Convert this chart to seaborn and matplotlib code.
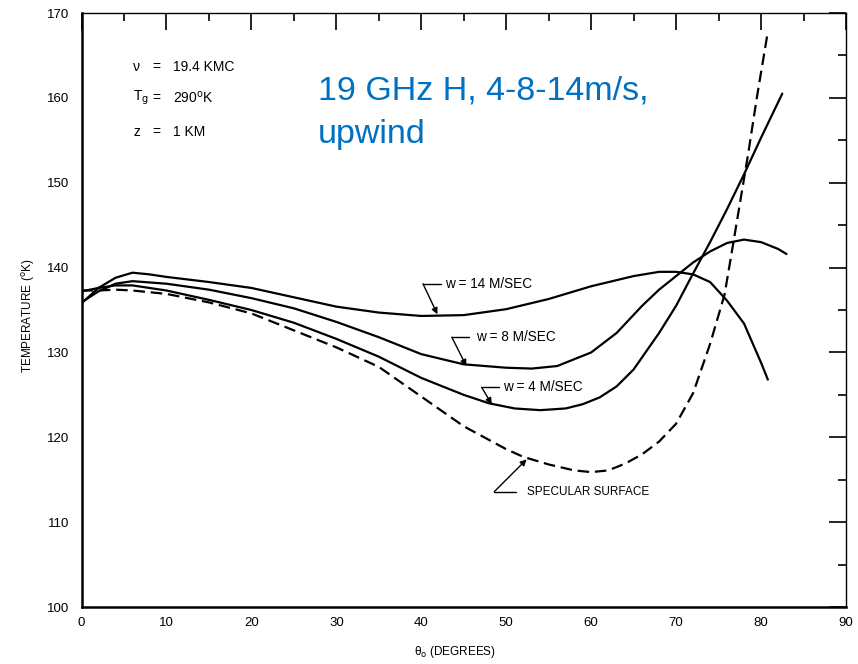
import numpy as np
import pandas as pd
import matplotlib
matplotlib.use("Agg")
import matplotlib.pyplot as plt
import seaborn as sns
from matplotlib.ticker import MultipleLocator

# Brightness temperature vs. nadir angle, 19.4 KMC, horizontal polarisation
theta_w14 = [0, 2, 4, 6, 8, 10, 15, 20, 25, 30, 35, 40, 45, 50, 55, 60, 65, 68, 70, 72, 74, 76, 78, 80, 80.8]
temp_w14 = [135.8, 137.6, 138.8, 139.4, 139.2, 138.9, 138.3, 137.6, 136.5, 135.4, 134.7, 134.3, 134.4, 135.1,
            136.3, 137.8, 139.0, 139.5, 139.5, 139.2, 138.3, 136.1, 133.4, 128.8, 126.8]

theta_w8 = [0, 2, 4, 6, 10, 15, 20, 25, 30, 35, 40, 45, 50, 53, 56, 60, 63, 66, 68, 70, 72, 74, 76, 78, 80, 82, 83]
temp_w8 = [135.9, 137.2, 138.1, 138.4, 138.1, 137.4, 136.4, 135.2, 133.6, 131.8, 129.8, 128.6, 128.2, 128.1,
           128.4, 130.0, 132.3, 135.5, 137.4, 139.0, 140.6, 141.9, 142.9, 143.3, 143.0, 142.2, 141.6]

theta_w4 = [0, 2, 4, 6, 10, 15, 20, 25, 30, 35, 40, 45, 48, 51, 54, 57, 59, 61, 63, 65, 68, 70, 72, 74, 76, 78, 80, 82.5]
temp_w4 = [137.2, 137.6, 137.9, 137.9, 137.3, 136.2, 135.0, 133.5, 131.6, 129.5, 127.0, 125.0, 124.0, 123.4,
           123.2, 123.4, 123.9, 124.7, 126.0, 128.0, 132.3, 135.5, 139.3, 143.0, 146.9, 151.0, 155.3, 160.5]

theta_spec = [0, 2, 4, 6, 10, 15, 20, 25, 30, 35, 40, 45, 50, 52, 55, 58, 60, 62, 64, 66, 68, 70, 72, 74,
              75.7, 76.5, 77.5, 78.5, 79.5, 80.8]
temp_spec = [137.3, 137.3, 137.4, 137.3, 136.9, 135.9, 134.6, 132.6, 130.6, 128.3, 124.8, 121.3, 118.6, 117.7,
             116.8, 116.1, 115.9, 116.1, 116.9, 118.0, 119.5, 121.6, 125.2, 131.0, 136.8, 141.5, 147.5, 153.5,
             160.0, 167.8]

series_names = ["w = 14", "w = 8", "w = 4", "specular"]

frames = []
for name, xs, ys in zip(series_names,
                        [theta_w14, theta_w8, theta_w4, theta_spec],
                        [temp_w14, temp_w8, temp_w4, temp_spec]):
    frames.append(pd.DataFrame({"theta": xs, "temp": ys, "series": name}))
df = pd.concat(frames, ignore_index=True)

sns.set_style("white")
plt.rcParams["font.family"] = ["Liberation Sans", "DejaVu Sans"]
plt.rcParams["mathtext.fontset"] = "dejavusans"
for key in ["text.color", "axes.labelcolor", "xtick.color", "ytick.color"]:
    plt.rcParams[key] = "black"

fig = plt.figure(figsize=(8.58, 6.64), dpi=100)
ax = fig.add_axes([0.0950, 0.0858, 0.8910, 0.8946])

sns.lineplot(data=df, x="theta", y="temp", hue="series", style="series",
             palette={n: "black" for n in series_names},
             dashes={"w = 14": "", "w = 8": "", "w = 4": "", "specular": (5.2, 2.6)},
             linewidth=1.6, estimator=None, legend=False, ax=ax)

ax.set_xlim(0, 90)
ax.set_ylim(100, 170)
ax.xaxis.set_major_locator(MultipleLocator(10))
ax.xaxis.set_minor_locator(MultipleLocator(5))
ax.yaxis.set_major_locator(MultipleLocator(10))
ax.yaxis.set_minor_locator(MultipleLocator(5))
ax.tick_params(which="major", direction="in", length=12, width=1.2, top=True, right=True,
               labelsize=9.5, colors="black")
ax.tick_params(axis="y", which="major", pad=9)
ax.tick_params(axis="x", which="major", pad=7)
ax.tick_params(which="minor", direction="in", length=6, width=1.2, top=True, right=True)

for side, lw in [("left", 1.8), ("bottom", 1.8), ("top", 1.0), ("right", 1.0)]:
    ax.spines[side].set_visible(True)
    ax.spines[side].set_color("black")
    ax.spines[side].set_linewidth(lw)

ax.set_xlabel("")
ax.set_ylabel("")
ax.text(0.4886, -0.075, r"θ$_{\rm o}$ (DEGREES)", transform=ax.transAxes,
        ha="center", va="center", fontsize=8.5)
ax.text(-0.069, 0.49, r"TEMPERATURE ($^{\rm o}$K)", transform=ax.transAxes,
        ha="center", va="center", rotation=90, fontsize=8.5)

# Parameter block
params = [("ν", "19.4 KMC", 163.6),
          (r"T$_{\rm g}$", r"290$^{\rm o}$K", 160.0),
          ("z", "1 KM", 156.0)]
for sym, val, yy in params:
    ax.text(6.1, yy, sym, ha="left", va="center", fontsize=10)
    ax.text(8.4, yy, "=", ha="left", va="center", fontsize=10)
    ax.text(10.8, yy, val, ha="left", va="center", fontsize=10)

# Title overlay
ax.text(27.8, 159.8, "19 GHz H, 4-8-14m/s,", ha="left", va="baseline",
        fontsize=24.5, color="#0070C0")
ax.text(27.8, 154.7, "upwind", ha="left", va="baseline",
        fontsize=24.5, color="#0070C0")

# Curve labels with leader arrows
labels = [("w = 14 M/SEC", 42.8, 138.1, 40.2, 42.3, 41.9, 134.5, 9.8),
          ("w = 8 M/SEC", 46.5, 131.8, 43.6, 45.6, 45.3, 128.4, 9.8),
          ("w = 4 M/SEC", 49.6, 125.9, 47.1, 49.1, 48.3, 123.9, 9.8),
          ("SPECULAR SURFACE", 52.4, 113.6, 48.6, 51.2, 52.4, 117.4, 8.5)]
for txt, tx, ty, ex, sx, px, py, fs in labels:
    ax.text(tx, ty, txt, ha="left", va="center", fontsize=fs)
    ax.plot([ex, sx], [ty, ty], color="black", lw=1.0)
    ax.annotate("", xy=(px, py), xytext=(ex, ty),
                arrowprops=dict(arrowstyle="-|>", color="black", lw=1.0,
                                mutation_scale=9, shrinkA=0, shrinkB=0))

fig.savefig("out.png", dpi=100)
